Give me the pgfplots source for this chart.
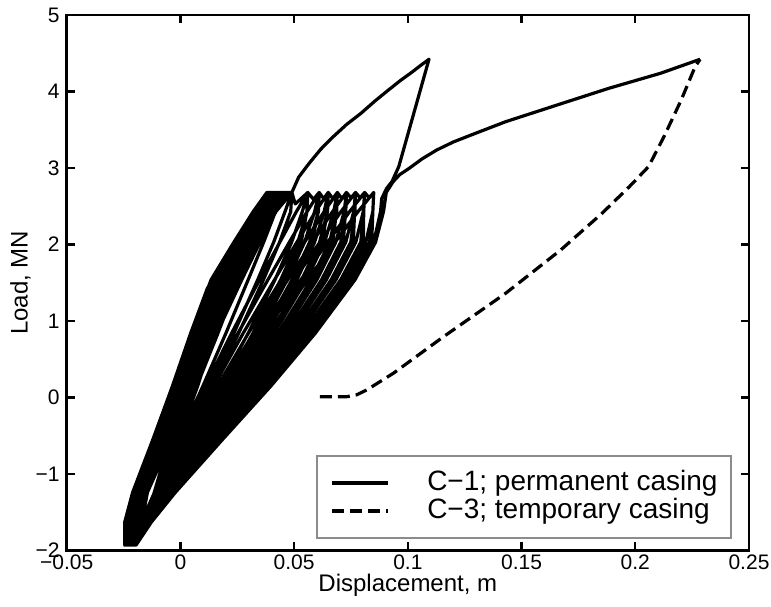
\documentclass[border=0pt]{standalone}
\usepackage{fontspec}
\setmainfont{Liberation Sans}
\usepackage{pgfplots}
\pgfplotsset{compat=1.18}

\begin{document}
\begin{tikzpicture}
\begin{axis}[
    scale only axis,
    width=341.15pt, height=267.75pt,
    xmin=-0.05, xmax=0.25, ymin=-2, ymax=5,
    xtick={-0.05,0,0.05,0.1,0.15,0.2,0.25},
    xticklabels={−0.05,0,0.05,0.1,0.15,0.2,0.25},
    ytick={-2,-1,0,1,2,3,4,5},
    yticklabels={−2,−1,0,1,2,3,4,5},
    scaled x ticks=false,
    tick align=inside,
    major tick length=4pt,
    every tick/.style={black, line width=1.2pt},
    axis line style={line width=1.35pt},
    tick label style={font=\fontsize{10.5}{12}\selectfont},
    xticklabel style={inner sep=2pt},
    label style={font=\fontsize{12}{14}\selectfont},
    xlabel={Displacement, m},
    ylabel={Load, MN},
    ylabel style={inner sep=1pt, yshift=-2pt},
    xlabel style={inner sep=2pt, yshift=2pt},
    legend style={
        at={(0.975,0.0215)}, anchor=south east,
        draw=black!45, line width=0.8pt, fill=white,
        font=\fontsize{14}{16}\selectfont,
        inner xsep=6.8pt, inner ysep=7pt,
        row sep=0.8pt, column sep=19pt,
        nodes={inner sep=0pt, text height=10.2pt, text depth=3pt},
    },
    legend cell align=left,
    legend image code/.code={\draw[#1] (0pt,0pt) -- (27.8pt,0pt);},
]
% C-1: cyclic loops, then the two large excursions
\addplot[black, line width=1.6pt, line join=round, mark=none] coordinates {
% small cycles
(-0.0245,-1.93) (-0.0245,-1.63) (-0.0210,-1.24) (-0.0120,-0.54) (-0.0035,0.15) (0.0045,0.84) (0.0120,1.44)
(0.0080,0.84) (0.0020,0.15) (-0.0045,-0.54) (-0.0115,-1.24) (-0.0160,-1.63) (-0.0195,-1.93)
(-0.0245,-1.93) (-0.0243,-1.63) (-0.0208,-1.24) (-0.0117,-0.54) (-0.0031,0.15) (0.0050,0.84) (0.0140,1.54) (0.0172,1.71)
(0.0102,0.84) (0.0037,0.15) (-0.0032,-0.54) (-0.0107,-1.24) (-0.0157,-1.63) (-0.0195,-1.93)
(-0.0245,-1.93) (-0.0244,-1.63) (-0.0209,-1.24) (-0.0119,-0.54) (-0.0033,0.15) (0.0047,0.84) (0.0137,1.54) (0.0232,2.01)
(0.0178,1.54) (0.0128,0.84) (0.0058,0.15) (-0.0017,-0.54) (-0.0102,-1.24) (-0.0155,-1.63) (-0.0195,-1.93)
(-0.0245,-1.93) (-0.0245,-1.63) (-0.0210,-1.24) (-0.0120,-0.54) (-0.0035,0.15) (0.0045,0.84) (0.0135,1.54) (0.0236,2.03) (0.0275,2.15)
(0.0256,2.03) (0.0200,1.54) (0.0150,0.84) (0.0076,0.15) (-0.0009,-0.54) (-0.0099,-1.24) (-0.0154,-1.63) (-0.0195,-1.93)
% cycles up to the 2.7 MN plateau
(-0.0245,-1.93) (-0.0245,-1.63) (-0.0210,-1.24) (-0.0120,-0.54) (-0.0035,0.15) (0.0045,0.84) (0.0135,1.54) (0.0235,2.03) (0.0320,2.43) (0.0380,2.68)
(0.0412,2.68)
(0.0376,2.43) (0.0322,2.03) (0.0256,1.54) (0.0165,0.84) (0.0072,0.15) (-0.0024,-0.54) (-0.0108,-1.24) (-0.0159,-1.63) (-0.0195,-1.93)
(-0.0240,-1.93) (-0.0238,-1.63) (-0.0204,-1.24) (-0.0112,-0.54) (-0.0026,0.15) (0.0057,0.84) (0.0149,1.54) (0.0247,2.03) (0.0330,2.43) (0.0391,2.68)
(0.0451,2.68)
(0.0418,2.43) (0.0366,2.03) (0.0298,1.54) (0.0200,0.84) (0.0099,0.15) (-0.0007,-0.54) (-0.0102,-1.24) (-0.0157,-1.63) (-0.0195,-1.93)
(-0.0238,-1.93) (-0.0234,-1.63) (-0.0200,-1.24) (-0.0108,-0.54) (-0.0021,0.15) (0.0062,0.84) (0.0155,1.54) (0.0252,2.03) (0.0335,2.43) (0.0397,2.68)
(0.0490,2.68)
(0.0460,2.43) (0.0410,2.03) (0.0340,1.54) (0.0235,0.84) (0.0125,0.15) (0.0010,-0.54) (-0.0095,-1.24) (-0.0155,-1.63) (-0.0195,-1.93)
(-0.0235,-1.93) (-0.0230,-1.63) (-0.0197,-1.24) (-0.0104,-0.54) (-0.0016,0.15) (0.0068,0.84) (0.0162,1.54) (0.0258,2.03) (0.0340,2.43) (0.0402,2.68)
(0.0490,2.68)
(0.0485,2.43) (0.0436,2.03) (0.0365,1.54) (0.0256,0.84) (0.0141,0.15) (0.0020,-0.54) (-0.0091,-1.24) (-0.0154,-1.63) (-0.0195,-1.93)
(-0.0233,-1.93) (-0.0226,-1.63) (-0.0194,-1.24) (-0.0100,-0.54) (-0.0011,0.15) (0.0074,0.84) (0.0169,1.54) (0.0264,2.03) (0.0345,2.43) (0.0408,2.68)
(0.0490,2.68) (0.0505,2.53) (0.0560,2.68)
(0.0536,2.43) (0.0489,2.03) (0.0416,1.54) (0.0298,0.84) (0.0173,0.15) (0.0040,-0.54) (-0.0083,-1.24) (-0.0151,-1.63) (-0.0195,-1.93)
(-0.0230,-1.93) (-0.0223,-1.63) (-0.0191,-1.24) (-0.0096,-0.54) (-0.0007,0.15) (0.0080,0.84) (0.0176,1.54) (0.0270,2.03) (0.0350,2.43) (0.0413,2.68)
(0.0490,2.68) (0.0505,2.53) (0.0560,2.68)
(0.0557,2.43) (0.0516,2.03) (0.0441,1.54) (0.0319,0.84) (0.0189,0.15) (0.0050,-0.54) (-0.0079,-1.24) (-0.0150,-1.63) (-0.0195,-1.93)
(-0.0228,-1.93) (-0.0219,-1.63) (-0.0187,-1.24) (-0.0092,-0.54) (-0.0002,0.15) (0.0085,0.84) (0.0182,1.54) (0.0275,2.03) (0.0355,2.43) (0.0419,2.68)
(0.0490,2.68) (0.0505,2.53) (0.0560,2.68) (0.0585,2.59) (0.0610,2.68)
(0.0590,2.43) (0.0546,2.03) (0.0470,1.54) (0.0343,0.84) (0.0207,0.15) (0.0062,-0.54) (-0.0075,-1.24) (-0.0149,-1.63) (-0.0195,-1.93)
(-0.0225,-1.93) (-0.0215,-1.63) (-0.0184,-1.24) (-0.0088,-0.54) (0.0003,0.15) (0.0091,0.84) (0.0189,1.54) (0.0281,2.03) (0.0360,2.43) (0.0424,2.68)
(0.0490,2.68) (0.0505,2.53) (0.0560,2.68) (0.0585,2.59) (0.0610,2.68)
(0.0607,2.43) (0.0568,2.03) (0.0491,1.54) (0.0360,0.84) (0.0220,0.15) (0.0070,-0.54) (-0.0072,-1.24) (-0.0148,-1.63) (-0.0195,-1.93)
(-0.0223,-1.93) (-0.0211,-1.63) (-0.0181,-1.24) (-0.0084,-0.54) (0.0008,0.15) (0.0097,0.84) (0.0196,1.54) (0.0287,2.03) (0.0365,2.43) (0.0430,2.68)
(0.0490,2.68) (0.0505,2.53) (0.0560,2.68) (0.0585,2.59) (0.0610,2.68) (0.0630,2.60) (0.0650,2.68)
(0.0632,2.43) (0.0590,2.03) (0.0512,1.54) (0.0378,0.84) (0.0234,0.15) (0.0079,-0.54) (-0.0068,-1.24) (-0.0147,-1.63) (-0.0195,-1.93)
(-0.0220,-1.93) (-0.0208,-1.63) (-0.0178,-1.24) (-0.0080,-0.54) (0.0013,0.15) (0.0103,0.84) (0.0203,1.54) (0.0293,2.03) (0.0370,2.43) (0.0435,2.68)
(0.0490,2.68) (0.0505,2.53) (0.0560,2.68) (0.0585,2.59) (0.0610,2.68) (0.0630,2.60) (0.0650,2.68)
(0.0647,2.43) (0.0612,2.03) (0.0533,1.54) (0.0395,0.84) (0.0247,0.15) (0.0087,-0.54) (-0.0065,-1.24) (-0.0146,-1.63) (-0.0195,-1.93)
(-0.0218,-1.93) (-0.0204,-1.63) (-0.0174,-1.24) (-0.0076,-0.54) (0.0017,0.15) (0.0108,0.84) (0.0209,1.54) (0.0298,2.03) (0.0375,2.43) (0.0441,2.68)
(0.0490,2.68) (0.0505,2.53) (0.0560,2.68) (0.0585,2.59) (0.0610,2.68) (0.0630,2.60) (0.0650,2.68) (0.0670,2.60) (0.0690,2.68)
(0.0674,2.43) (0.0634,2.03) (0.0554,1.54) (0.0412,0.84) (0.0260,0.15) (0.0096,-0.54) (-0.0062,-1.24) (-0.0145,-1.63) (-0.0195,-1.93)
(-0.0215,-1.93) (-0.0200,-1.63) (-0.0171,-1.24) (-0.0072,-0.54) (0.0022,0.15) (0.0114,0.84) (0.0216,1.54) (0.0304,2.03) (0.0380,2.43) (0.0446,2.68)
(0.0490,2.68) (0.0505,2.53) (0.0560,2.68) (0.0585,2.59) (0.0610,2.68) (0.0630,2.60) (0.0650,2.68) (0.0670,2.60) (0.0690,2.68)
(0.0687,2.43) (0.0656,2.03) (0.0575,1.54) (0.0430,0.84) (0.0273,0.15) (0.0104,-0.54) (-0.0059,-1.24) (-0.0144,-1.63) (-0.0195,-1.93)
(-0.0213,-1.93) (-0.0196,-1.63) (-0.0168,-1.24) (-0.0068,-0.54) (0.0027,0.15) (0.0120,0.84) (0.0223,1.54) (0.0310,2.03) (0.0385,2.43) (0.0452,2.68)
(0.0490,2.68) (0.0505,2.53) (0.0560,2.68) (0.0585,2.59) (0.0610,2.68) (0.0630,2.60) (0.0650,2.68) (0.0670,2.60) (0.0690,2.68) (0.0710,2.60) (0.0730,2.68)
(0.0720,2.43) (0.0683,2.03) (0.0600,1.54) (0.0451,0.84) (0.0289,0.15) (0.0114,-0.54) (-0.0055,-1.24) (-0.0143,-1.63) (-0.0195,-1.93)
(-0.0210,-1.93) (-0.0193,-1.63) (-0.0165,-1.24) (-0.0064,-0.54) (0.0032,0.15) (0.0126,0.84) (0.0230,1.54) (0.0316,2.03) (0.0390,2.43) (0.0457,2.68)
(0.0490,2.68) (0.0505,2.53) (0.0560,2.68) (0.0585,2.59) (0.0610,2.68) (0.0630,2.60) (0.0650,2.68) (0.0670,2.60) (0.0690,2.68) (0.0710,2.60) (0.0730,2.68)
(0.0727,2.43) (0.0705,2.03) (0.0621,1.54) (0.0468,0.84) (0.0303,0.15) (0.0123,-0.54) (-0.0051,-1.24) (-0.0142,-1.63) (-0.0195,-1.93)
(-0.0208,-1.93) (-0.0189,-1.63) (-0.0161,-1.24) (-0.0060,-0.54) (0.0036,0.15) (0.0131,0.84) (0.0236,1.54) (0.0321,2.03) (0.0395,2.43) (0.0463,2.68)
(0.0490,2.68) (0.0505,2.53) (0.0560,2.68) (0.0585,2.59) (0.0610,2.68) (0.0630,2.60) (0.0650,2.68) (0.0670,2.60) (0.0690,2.68) (0.0710,2.60) (0.0730,2.68) (0.0750,2.61) (0.0770,2.68)
(0.0762,2.43) (0.0727,2.03) (0.0642,1.54) (0.0486,0.84) (0.0316,0.15) (0.0131,-0.54) (-0.0048,-1.24) (-0.0141,-1.63) (-0.0195,-1.93)
(-0.0205,-1.93) (-0.0185,-1.63) (-0.0158,-1.24) (-0.0056,-0.54) (0.0041,0.15) (0.0137,0.84) (0.0243,1.54) (0.0327,2.03) (0.0400,2.43) (0.0468,2.68)
(0.0490,2.68) (0.0505,2.53) (0.0560,2.68) (0.0585,2.59) (0.0610,2.68) (0.0630,2.60) (0.0650,2.68) (0.0670,2.60) (0.0690,2.68) (0.0710,2.60) (0.0730,2.68) (0.0750,2.61) (0.0770,2.68)
(0.0767,2.43) (0.0749,2.03) (0.0663,1.54) (0.0503,0.84) (0.0329,0.15) (0.0139,-0.54) (-0.0045,-1.24) (-0.0140,-1.63) (-0.0195,-1.93)
(-0.0203,-1.93) (-0.0181,-1.63) (-0.0155,-1.24) (-0.0052,-0.54) (0.0046,0.15) (0.0143,0.84) (0.0250,1.54) (0.0333,2.03) (0.0405,2.43) (0.0474,2.68)
(0.0490,2.68) (0.0505,2.53) (0.0560,2.68) (0.0585,2.59) (0.0610,2.68) (0.0630,2.60) (0.0650,2.68) (0.0670,2.60) (0.0690,2.68) (0.0710,2.60) (0.0730,2.68) (0.0750,2.61) (0.0770,2.68) (0.0790,2.61) (0.0810,2.68)
(0.0804,2.43) (0.0771,2.03) (0.0684,1.54) (0.0520,0.84) (0.0342,0.15) (0.0148,-0.54) (-0.0042,-1.24) (-0.0139,-1.63) (-0.0195,-1.93)
(-0.0200,-1.93) (-0.0178,-1.63) (-0.0152,-1.24) (-0.0048,-0.54) (0.0051,0.15) (0.0149,0.84) (0.0257,1.54) (0.0339,2.03) (0.0410,2.43) (0.0479,2.68)
(0.0490,2.68) (0.0505,2.53) (0.0560,2.68) (0.0585,2.59) (0.0610,2.68) (0.0630,2.60) (0.0650,2.68) (0.0670,2.60) (0.0690,2.68) (0.0710,2.60) (0.0730,2.68) (0.0750,2.61) (0.0770,2.68) (0.0790,2.61) (0.0810,2.68)
(0.0806,2.43) (0.0793,2.03) (0.0705,1.54) (0.0538,0.84) (0.0356,0.15) (0.0156,-0.54) (-0.0038,-1.24) (-0.0138,-1.63) (-0.0195,-1.93)
(-0.0198,-1.93) (-0.0174,-1.63) (-0.0148,-1.24) (-0.0044,-0.54) (0.0055,0.15) (0.0154,0.84) (0.0263,1.54) (0.0344,2.03) (0.0415,2.43) (0.0485,2.68)
(0.0490,2.68) (0.0505,2.53) (0.0560,2.68) (0.0585,2.59) (0.0610,2.68) (0.0630,2.60) (0.0650,2.68) (0.0670,2.60) (0.0690,2.68) (0.0710,2.60) (0.0730,2.68) (0.0750,2.61) (0.0770,2.68) (0.0790,2.61) (0.0810,2.68) (0.0830,2.61) (0.0850,2.68)
(0.0846,2.43) (0.0815,2.03) (0.0726,1.54) (0.0555,0.84) (0.0369,0.15) (0.0165,-0.54) (-0.0035,-1.24) (-0.0137,-1.63) (-0.0195,-1.93)
(-0.0195,-1.93) (-0.0170,-1.63) (-0.0145,-1.24) (-0.0040,-0.54) (0.0060,0.15) (0.0160,0.84) (0.0270,1.54) (0.0350,2.03) (0.0420,2.43) (0.0490,2.68)
(0.0505,2.53) (0.0560,2.68) (0.0585,2.59) (0.0610,2.68) (0.0630,2.60) (0.0650,2.68) (0.0670,2.60) (0.0690,2.68) (0.0710,2.60) (0.0730,2.68) (0.0750,2.61) (0.0770,2.68) (0.0790,2.61) (0.0810,2.68) (0.0830,2.61) (0.0850,2.68)
(0.0846,2.43) (0.0832,2.03) (0.0743,1.54) (0.0569,0.84) (0.0379,0.15) (0.0171,-0.54) (-0.0033,-1.24) (-0.0136,-1.63) (-0.0195,-1.93)
% later cycles loading straight to the plateau teeth
(-0.0210,-1.93) (-0.0172,-1.63) (-0.0114,-1.24) (-0.0002,-0.54) (0.0110,0.15) (0.0225,0.84) (0.0348,1.54) (0.0437,2.03) (0.0510,2.43) (0.0560,2.68)
(0.0556,2.43) (0.0531,2.03) (0.0456,1.54) (0.0331,0.84) (0.0198,0.15) (0.0056,-0.54) (-0.0077,-1.24) (-0.0150,-1.63) (-0.0195,-1.93)
(-0.0210,-1.93) (-0.0169,-1.63) (-0.0108,-1.24) (0.0011,-0.54) (0.0130,0.15) (0.0253,0.84) (0.0385,1.54) (0.0479,2.03) (0.0557,2.43) (0.0610,2.68)
(0.0606,2.43) (0.0579,2.03) (0.0502,1.54) (0.0369,0.84) (0.0227,0.15) (0.0075,-0.54) (-0.0070,-1.24) (-0.0147,-1.63) (-0.0195,-1.93)
(-0.0210,-1.93) (-0.0167,-1.63) (-0.0103,-1.24) (0.0022,-0.54) (0.0147,0.15) (0.0276,0.84) (0.0414,1.54) (0.0512,2.03) (0.0594,2.43) (0.0650,2.68)
(0.0646,2.43) (0.0623,2.03) (0.0544,1.54) (0.0404,0.84) (0.0254,0.15) (0.0092,-0.54) (-0.0064,-1.24) (-0.0145,-1.63) (-0.0195,-1.93)
(-0.0210,-1.93) (-0.0165,-1.63) (-0.0098,-1.24) (0.0033,-0.54) (0.0164,0.15) (0.0299,0.84) (0.0443,1.54) (0.0546,2.03) (0.0632,2.43) (0.0690,2.68)
(0.0686,2.43) (0.0670,2.03) (0.0588,1.54) (0.0440,0.84) (0.0281,0.15) (0.0109,-0.54) (-0.0057,-1.24) (-0.0143,-1.63) (-0.0195,-1.93)
(-0.0210,-1.93) (-0.0163,-1.63) (-0.0093,-1.24) (0.0044,-0.54) (0.0180,0.15) (0.0321,0.84) (0.0472,1.54) (0.0580,2.03) (0.0669,2.43) (0.0730,2.68)
(0.0726,2.43) (0.0716,2.03) (0.0632,1.54) (0.0477,0.84) (0.0309,0.15) (0.0127,-0.54) (-0.0050,-1.24) (-0.0141,-1.63) (-0.0195,-1.93)
(-0.0210,-1.93) (-0.0161,-1.63) (-0.0088,-1.24) (0.0055,-0.54) (0.0197,0.15) (0.0344,0.84) (0.0501,1.54) (0.0613,2.03) (0.0706,2.43) (0.0770,2.68)
(0.0766,2.43) (0.0760,2.03) (0.0674,1.54) (0.0512,0.84) (0.0336,0.15) (0.0144,-0.54) (-0.0043,-1.24) (-0.0139,-1.63) (-0.0195,-1.93)
(-0.0210,-1.93) (-0.0159,-1.63) (-0.0083,-1.24) (0.0065,-0.54) (0.0213,0.15) (0.0366,0.84) (0.0530,1.54) (0.0647,2.03) (0.0744,2.43) (0.0810,2.68)
(0.0806,2.43) (0.0804,2.03) (0.0716,1.54) (0.0547,0.84) (0.0362,0.15) (0.0160,-0.54) (-0.0037,-1.24) (-0.0137,-1.63) (-0.0195,-1.93)
(-0.0210,-1.93) (-0.0157,-1.63) (-0.0078,-1.24) (0.0076,-0.54) (0.0230,0.15) (0.0389,0.84) (0.0559,1.54) (0.0680,2.03) (0.0781,2.43) (0.0850,2.68)
(0.0846,2.43) (0.0841,2.03) (0.0752,1.54) (0.0576,0.84) (0.0385,0.15) (0.0175,-0.54) (-0.0031,-1.24) (-0.0135,-1.63) (-0.0195,-1.93)
% first excursion to 4.4 MN and unloading
(-0.0195,-1.93) (-0.0170,-1.63) (-0.0145,-1.24) (-0.0040,-0.54) (0.0060,0.15) (0.0160,0.84) (0.0270,1.54) (0.0350,2.03) (0.0420,2.43) (0.0490,2.68)
(0.0520,2.88) (0.0566,3.061) (0.0617,3.245) (0.0672,3.409) (0.0731,3.570) (0.0794,3.715) (0.0854,3.872) (0.0915,4.020) (0.0968,4.145) (0.1021,4.259) (0.1058,4.345) (0.1093,4.421)
(0.0960,3.017) (0.0930,2.821) (0.0907,2.735) (0.0885,2.60) (0.0880,2.43) (0.0850,2.03) (0.0760,1.54) (0.0583,0.84) (0.0390,0.15) (0.0178,-0.54) (-0.0030,-1.24) (-0.0135,-1.63) (-0.0195,-1.93)
% final loading
(-0.0128,-1.63) (-0.0022,-1.24) (0.0188,-0.54) (0.0398,0.15) (0.0593,0.84) (0.0768,1.54) (0.0858,2.03) (0.0893,2.43) (0.0905,2.68)
(0.0935,2.82) (0.0965,2.915) (0.1006,2.996) (0.1063,3.120) (0.1127,3.235) (0.1200,3.340) (0.1278,3.431) (0.1430,3.605) (0.1657,3.824) (0.1884,4.042) (0.2111,4.238) (0.2285,4.421)
};
% C-3
\addplot[black, line width=1.6pt, dash pattern=on 6pt off 3pt, line join=round, mark=none] coordinates {
(0.0613,0.01) (0.0731,0.01) (0.0775,0.035) (0.0819,0.098) (0.0936,0.316) (0.1157,0.795) (0.1430,1.362)
(0.1672,1.928) (0.1854,2.408) (0.1974,2.756) (0.2058,3.017) (0.2126,3.409) (0.2202,3.889) (0.2263,4.324) (0.2285,4.421)
};
\legend{C−1; permanent casing, C−3; temporary casing}
\end{axis}
\pgfresetboundingbox
\path[use as bounding box] ([xshift=-33.35pt,yshift=-28.25pt]current axis.south west) rectangle ([xshift=11pt,yshift=7.5pt]current axis.north east);
\end{tikzpicture}
\end{document}
